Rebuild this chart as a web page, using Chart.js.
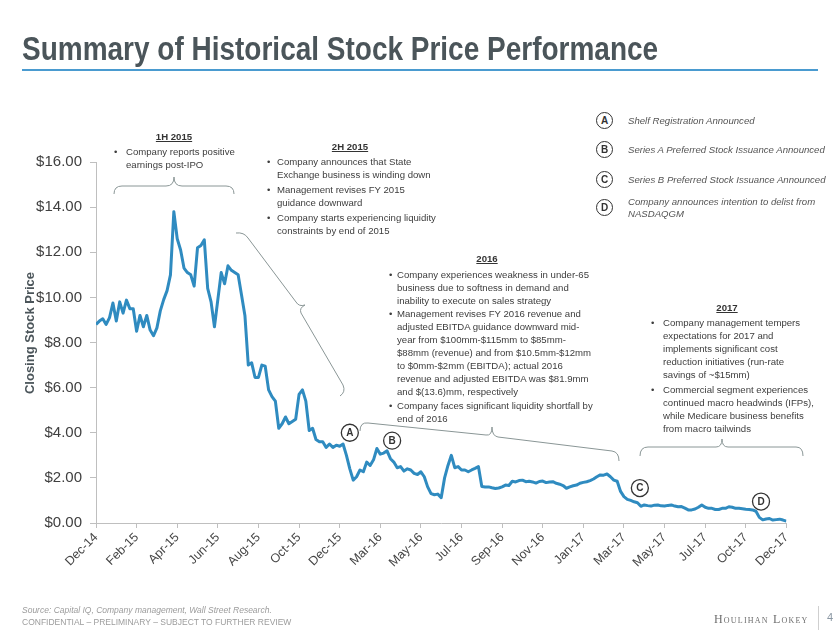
<!DOCTYPE html>
<html>
<head>
<meta charset="utf-8">
<script src="https://cdn.jsdelivr.net/npm/chart.js@4.4.1/dist/chart.umd.min.js"></script>
<style>
  html, body { margin: 0; padding: 0; background: #fff; }
  #page { position: relative; width: 840px; height: 630px; overflow: hidden;
          font-family: "Liberation Sans", Arial, sans-serif; color: #3d3d3d; }
  #chart { position: absolute; left: 0; top: 0; }
  #braces { position: absolute; left: 0; top: 0; }
  #title { position: absolute; left: 22px; top: 30px; line-height: 37px; white-space: nowrap;
           font: bold 33px "Liberation Sans Narrow", "Arial Narrow", "Liberation Sans", Arial, sans-serif;
           color: #4b555a; transform-origin: 0 50%; }
  #rule { position: absolute; left: 22px; top: 69px; width: 796px; height: 2px; background: #4a9bd0; }
  #ytitle { position: absolute; left: 29px; top: 333px; transform: translate(-50%, -50%) rotate(-90deg);
            font-weight: bold; font-size: 13px; color: #4b555a; white-space: nowrap; }
  .h { position: absolute; font-size: 9.6px; line-height: 13px; font-weight: bold; color: #333;
       text-decoration: underline; transform: translateX(-50%); white-space: nowrap; }
  .b { position: absolute; font-size: 9.6px; line-height: 13px; white-space: nowrap; }
  .b::before { content: "\2022"; position: absolute; left: var(--bx); }
  .lc { position: absolute; width: 15px; height: 15px; border: 1.3px solid #333; border-radius: 50%;
        font-size: 10px; font-weight: bold; line-height: 15px; text-align: center; color: #333; background: #fff; }
  .lt { position: absolute; left: 628px; font-size: 9.6px; line-height: 12px; font-style: italic; color: #555; white-space: nowrap; }
  .foot { position: absolute; left: 22px; font-size: 8.5px; line-height: 12px; color: #9c9c9c; white-space: nowrap; }
  #brand { position: absolute; left: 714px; top: 612px; font-family: "Liberation Serif", "DejaVu Serif", serif;
           font-size: 12px; font-variant: small-caps; letter-spacing: 1.2px; color: #6d6d6d; white-space: nowrap; }
  #sep { position: absolute; left: 818px; top: 606px; width: 1px; height: 26px; background: #cfcfcf; }
  #pageno { position: absolute; left: 827px; top: 611px; font-size: 11px; color: #8a97a3; }
</style>
</head>
<body>
<div id="page">
  <canvas id="chart" width="840" height="630"></canvas>

  <svg id="braces" width="840" height="630" fill="none" stroke="#8a9696" stroke-width="1">
    <path d="M114,194 Q114,186 122,186 L166,186 Q174,186 174,177 Q174,186 182,186 L226,186 Q234,186 234,194"/>
    <path d="M236,233 Q244,232 248,238 L296,302 Q299,307 305,305 Q299,308 301,313 L343,385 Q346,392 340,396"/>
    <path d="M360,431 Q360,422 368,423 L486,435 Q492,436 492,427 Q492,436 498,437 L612,451 Q619,452 619,461"/>
    <path d="M640,456 Q640,447 648,447 L716,447 Q722,447 722,439 Q722,447 728,447 L796,447 Q803,447 803,456"/>
  </svg>

  <div id="title">Summary of Historical Stock Price Performance</div>
  <div id="rule"></div>
  <div id="ytitle">Closing Stock Price</div>

  <div class="h" style="left:174px; top:130px;">1H 2015</div>
  <div class="b" style="left:126px; top:145px; --bx:-12px;">Company reports positive<br>earnings post-IPO</div>

  <div class="h" style="left:350px; top:140px;">2H 2015</div>
  <div class="b" style="left:277px; top:154.5px; --bx:-10px;">Company announces that State<br>Exchange business is winding down</div>
  <div class="b" style="left:277px; top:182.5px; --bx:-10px;">Management revises FY 2015<br>guidance downward</div>
  <div class="b" style="left:277px; top:211px; --bx:-10px;">Company starts experiencing liquidity<br>constraints by end of 2015</div>

  <div class="h" style="left:487px; top:252px;">2016</div>
  <div class="b" style="left:397px; top:267.5px; --bx:-8px;">Company experiences weakness in under-65<br>business due to softness in demand and<br>inability to execute on sales strategy</div>
  <div class="b" style="left:397px; top:307px; --bx:-8px;">Management revises FY 2016 revenue and<br>adjusted EBITDA guidance downward mid-<br>year from $100mm-$115mm to $85mm-<br>$88mm (revenue) and from $10.5mm-$12mm<br>to $0mm-$2mm (EBITDA); actual 2016<br>revenue and adjusted EBITDA was $81.9mm<br>and $(13.6)mm, respectively</div>
  <div class="b" style="left:397px; top:398.5px; --bx:-8px;">Company faces significant liquidity shortfall by<br>end of 2016</div>

  <div class="h" style="left:727px; top:300.5px;">2017</div>
  <div class="b" style="left:663px; top:315.5px; --bx:-12px;">Company management tempers<br>expectations for 2017 and<br>implements significant cost<br>reduction initiatives (run-rate<br>savings of ~$15mm)</div>
  <div class="b" style="left:663px; top:382.5px; --bx:-12px;">Commercial segment experiences<br>continued macro headwinds (IFPs),<br>while Medicare business benefits<br>from macro tailwinds</div>

  <div class="lc" style="left:596px; top:112px;">A</div>
  <div class="lt" style="top:115px;">Shelf Registration Announced</div>
  <div class="lc" style="left:596px; top:141px;">B</div>
  <div class="lt" style="top:144px;">Series A Preferred Stock Issuance Announced</div>
  <div class="lc" style="left:596px; top:171px;">C</div>
  <div class="lt" style="top:174px;">Series B Preferred Stock Issuance Announced</div>
  <div class="lc" style="left:596px; top:199px;">D</div>
  <div class="lt" style="top:196px;">Company announces intention to delist from<br>NASDAQGM</div>

  <div class="foot" style="top:604px; font-style:italic;">Source: Capital IQ, Company management, Wall Street Research.</div>
  <div class="foot" style="top:616px;">CONFIDENTIAL – PRELIMINARY – SUBJECT TO FURTHER REVIEW</div>
  <div id="brand">Houlihan Lokey</div>
  <div id="sep"></div>
  <div id="pageno">4</div>
</div>

<script>
// x-axis labels, one every pointsPerTick observations
const tickLabels = ['Dec-14', 'Feb-15', 'Apr-15', 'Jun-15', 'Aug-15', 'Oct-15', 'Dec-15', 'Mar-16', 'May-16',
                    'Jul-16', 'Sep-16', 'Nov-16', 'Jan-17', 'Mar-17', 'May-17', 'Jul-17', 'Oct-17', 'Dec-17'];
const pointsPerTick = 12;

// closing price ($), one row per label interval
const closePrice = [
  8.8, 8.95, 9.05, 8.8, 9.1, 9.75, 8.95, 9.8, 9.3, 9.88, 9.5, 9.5,
  8.5, 9.2, 8.7, 9.2, 8.55, 8.3, 8.65, 9.4, 9.9, 10.3, 11.0, 13.8,
  12.6, 12.1, 11.3, 11.1, 11.0, 10.5, 12.2, 12.3, 12.55, 10.4, 9.8, 8.7,
  9.9, 11.1, 10.6, 11.4, 11.2, 11.1, 11.0, 10.1, 9.2, 7.0, 7.1, 6.45,
  6.45, 7.0, 6.95, 5.9, 5.6, 5.4, 4.2, 4.4, 4.7, 4.4, 4.5, 4.6,
  5.7, 5.9, 5.4, 4.1, 4.2, 3.7, 3.6, 3.6, 3.35, 3.5, 3.35, 3.45,
  3.4, 3.5, 3.0, 2.4, 1.9, 2.05, 2.35, 2.27, 2.7, 2.55, 2.8, 3.3,
  3.05, 3.1, 3.2, 2.85, 2.7, 2.45, 2.5, 2.3, 2.4, 2.35, 2.2, 2.15,
  2.27, 2.05, 1.6, 1.3, 1.25, 1.28, 1.12, 2.0, 2.55, 3.0, 2.45, 2.5,
  2.35, 2.35, 2.27, 2.35, 2.42, 2.5, 1.62, 1.6, 1.6, 1.56, 1.53, 1.55,
  1.6, 1.68, 1.66, 1.85, 1.82, 1.88, 1.9, 1.83, 1.85, 1.82, 1.77, 1.84,
  1.86, 1.79, 1.82, 1.83, 1.76, 1.72, 1.66, 1.54, 1.6, 1.65, 1.68, 1.76,
  1.8, 1.83, 1.88, 1.95, 2.05, 2.13, 2.12, 2.17, 2.05, 1.9, 1.85, 1.4,
  1.17, 1.05, 1.0, 0.94, 0.9, 0.74, 0.8, 0.77, 0.75, 0.79, 0.8, 0.76,
  0.75, 0.78, 0.8, 0.75, 0.72, 0.73, 0.66, 0.58, 0.58, 0.62, 0.7, 0.8,
  0.7, 0.65, 0.65, 0.6, 0.6, 0.65, 0.65, 0.72, 0.7, 0.65, 0.65, 0.63,
  0.61, 0.6, 0.58, 0.52, 0.25, 0.14, 0.18, 0.2, 0.13, 0.15, 0.17, 0.13,
  0.08
];

// y axis
const priceMin = 0;
const priceMax = 16;
const priceStep = 2;

// event markers: letter, observation index, price level where the circle sits
const eventLabels = ['A', 'B', 'C', 'D'];
const eventIndex = [75, 87.5, 160.7, 196.5];
const eventPrice = [4.0, 3.65, 1.55, 0.95];

// the slide title is a condensed face; squeeze the fallback to the same width
const title = document.getElementById('title');
title.style.transform = 'scaleX(' + (636 / title.scrollWidth) + ')';

const eventMarkers = {
  id: 'eventMarkers',
  afterDatasetsDraw(chart) {
    const { ctx, scales } = chart;
    ctx.save();
    eventLabels.forEach((label, k) => {
      const x = scales.x.getPixelForValue(eventIndex[k]);
      const y = scales.y.getPixelForValue(eventPrice[k]);
      ctx.beginPath();
      ctx.arc(x, y, 8.5, 0, Math.PI * 2);
      ctx.fillStyle = '#fff';
      ctx.fill();
      ctx.lineWidth = 1.3;
      ctx.strokeStyle = '#333';
      ctx.stroke();
      ctx.fillStyle = '#333';
      ctx.font = 'bold 10px "Liberation Sans", Arial, sans-serif';
      ctx.textAlign = 'center';
      ctx.textBaseline = 'middle';
      ctx.fillText(label, x, y + 0.5);
    });
    ctx.restore();
  }
};

Chart.defaults.font.family = '"Liberation Sans", Arial, sans-serif';

new Chart(document.getElementById('chart'), {
  type: 'line',
  data: {
    datasets: [{
      data: closePrice.map((v, i) => ({ x: i, y: v })),
      borderColor: '#2f8bc0',
      borderWidth: 3,
      borderJoinStyle: 'round',
      pointRadius: 0,
      tension: 0,
      fill: false
    }]
  },
  options: {
    responsive: false,
    animation: false,
    layout: { padding: { left: 30, right: 53.6, top: 162, bottom: 47 } },
    plugins: { legend: { display: false }, tooltip: { enabled: false } },
    scales: {
      x: {
        type: 'linear',
        min: 0,
        max: closePrice.length - 1,
        afterFit: s => { s.height = 60; },
        grid: { drawOnChartArea: false, tickLength: 5, color: '#bfbfbf' },
        border: { color: '#bfbfbf' },
        ticks: {
          stepSize: pointsPerTick,
          autoSkip: false,
          maxRotation: 45,
          minRotation: 45,
          padding: 2,
          color: '#454545',
          font: { size: 12.5 },
          callback: v => tickLabels[v / pointsPerTick]
        }
      },
      y: {
        min: priceMin,
        max: priceMax,
        afterFit: s => { s.width = 66; },
        grid: { drawOnChartArea: false, tickLength: 6, color: '#bfbfbf' },
        border: { color: '#bfbfbf' },
        ticks: {
          stepSize: priceStep,
          padding: 8,
          color: '#404040',
          font: { size: 15 },
          callback: v => '$' + v.toFixed(2)
        }
      }
    }
  },
  plugins: [eventMarkers]
});
</script>
</body>
</html>
